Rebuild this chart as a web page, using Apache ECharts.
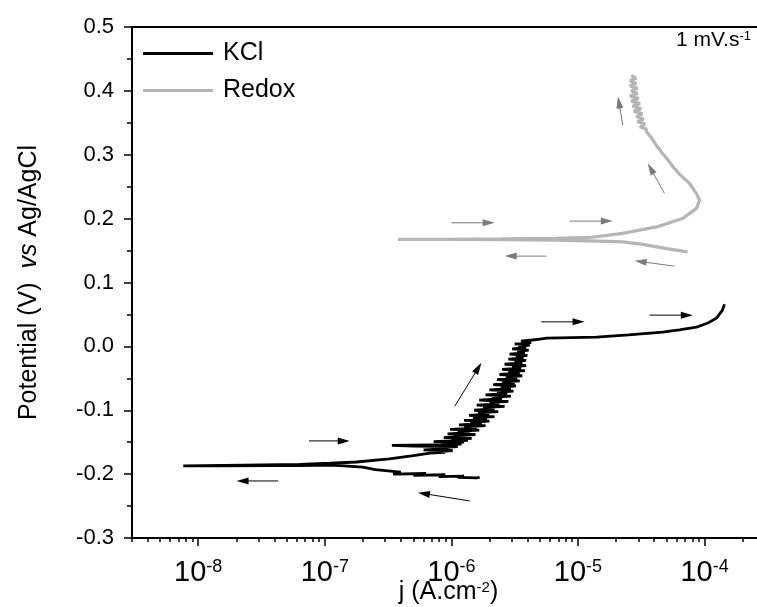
<!DOCTYPE html>
<html>
<head>
<meta charset="utf-8">
<script src="https://cdn.jsdelivr.net/npm/echarts@6/dist/echarts.min.js"></script>
<style>
  html, body { margin: 0; padding: 0; background: #fff; }
  #chart { width: 757px; height: 607px; }
</style>
</head>
<body>
<div id="chart"></div>
<script>
// values, in sweep order; current as log10(j / A.cm-2)
const kclLogJ = [
  -5.777, -5.80, -5.95, -5.90, -6.10, -6.05, -6.30, -6.20, -6.46, -6.40, -6.60, -6.70, -6.85, -6.96, -7.20, -7.43, -7.80, -8.118,
  -7.80, -7.50, -7.20, -6.96, -6.75, -6.49, -6.30,
  -6.17, -6.05, -6.12, -5.99, -6.22, -6.02, -6.10, -5.95, -6.30, -6.47, -6.00, -5.92, -6.08, -5.90, -6.14, -5.87,
  -6.00, -5.84, -6.06, -5.90, -5.98, -5.81, -6.03, -5.85, -5.95, -5.78, -6.01, -5.80, -5.90, -5.73, -5.94, -5.76,
  -5.85, -5.70, -5.90, -5.72, -5.83, -5.66, -5.86, -5.70, -5.79, -5.63, -5.82, -5.66, -5.75, -5.58, -5.80, -5.62,
  -5.70, -5.55, -5.78, -5.60, -5.68, -5.53, -5.73, -5.56, -5.64, -5.51, -5.70, -5.53, -5.61, -5.49, -5.67, -5.50,
  -5.60, -5.46, -5.64, -5.48, -5.57, -5.44, -5.62, -5.46, -5.55, -5.42, -5.60, -5.45, -5.52, -5.41, -5.58, -5.44,
  -5.50, -5.41, -5.55, -5.43, -5.49, -5.40, -5.54, -5.42, -5.48, -5.39, -5.52, -5.41, -5.47, -5.38, -5.50, -5.37,
  -5.45, -5.36,
  -5.30, -5.248, -4.853, -4.60, -4.332, -4.20, -4.064, -3.97, -3.906, -3.859, -3.843
];
const kclE = [
  -0.205, -0.206, -0.205, -0.203, -0.204, -0.201, -0.202, -0.199, -0.200, -0.197, -0.193, -0.189, -0.187, -0.186, -0.1865, -0.1865, -0.187, -0.187,
  -0.1862, -0.1855, -0.1848, -0.183, -0.181, -0.176, -0.171,
  -0.167, -0.166, -0.165, -0.163, -0.162, -0.160, -0.159, -0.157, -0.156, -0.155, -0.154, -0.153, -0.152, -0.150, -0.149, -0.147,
  -0.146, -0.144, -0.143, -0.141, -0.140, -0.138, -0.137, -0.135, -0.133, -0.131, -0.130, -0.128, -0.126, -0.124, -0.123, -0.121,
  -0.119, -0.117, -0.116, -0.114, -0.112, -0.110, -0.108, -0.106, -0.104, -0.102, -0.100, -0.098, -0.096, -0.094, -0.092, -0.090,
  -0.088, -0.086, -0.084, -0.082, -0.080, -0.078, -0.076, -0.074, -0.072, -0.070, -0.068, -0.066, -0.064, -0.062, -0.060, -0.058,
  -0.056, -0.054, -0.052, -0.050, -0.048, -0.046, -0.044, -0.042, -0.040, -0.038, -0.036, -0.034, -0.032, -0.030, -0.028, -0.026,
  -0.024, -0.022, -0.020, -0.018, -0.016, -0.014, -0.012, -0.010, -0.008, -0.006, -0.004, -0.002, 0.000, 0.002, 0.004, 0.006,
  0.008, 0.010,
  0.0115, 0.0128, 0.0144, 0.018, 0.0222, 0.026, 0.030, 0.037, 0.0442, 0.0567, 0.066
];

const redoxLogJ = [
  -4.134, -4.30, -4.50, -4.649, -4.909, -5.171, -5.60, -6.00, -6.421,
  -6.00, -5.60, -5.171, -4.909, -4.648, -4.38, -4.174, -4.064, -4.04, -4.066, -4.119,
  -4.19, -4.245, -4.29, -4.34, -4.385, -4.425, -4.46,
  -4.46, -4.51, -4.47, -4.53, -4.48, -4.54, -4.49, -4.56, -4.50, -4.57, -4.51, -4.58,
  -4.52, -4.59, -4.53, -4.58, -4.53, -4.59, -4.54, -4.59, -4.54, -4.58
];
const redoxE = [
  0.148, 0.153, 0.160, 0.1637, 0.1653, 0.1664, 0.1670, 0.1673, 0.1674,
  0.1677, 0.1682, 0.169, 0.1705, 0.1768, 0.187, 0.2003, 0.216, 0.229, 0.2395, 0.2552,
  0.268, 0.280, 0.292, 0.304, 0.316, 0.328, 0.336,
  0.340, 0.344, 0.348, 0.352, 0.356, 0.360, 0.364, 0.368, 0.372, 0.376, 0.380, 0.384,
  0.388, 0.392, 0.396, 0.400, 0.404, 0.408, 0.412, 0.416, 0.420, 0.424
];

// sweep direction arrows: [logj start, E start, logj end, E end]
const kclArrows = [
  [-7.125, -0.148, -6.803, -0.148],
  [-7.368, -0.2107, -7.697, -0.2107],
  [-5.974, -0.0937, -5.763, -0.0258],
  [-5.856, -0.242, -6.264, -0.229],
  [-5.29, 0.0384, -4.948, 0.0384],
  [-4.435, 0.0489, -4.093, 0.0489]
];
const redoxArrows = [
  [-6.0, 0.1935, -5.658, 0.1935],
  [-5.066, 0.1961, -4.725, 0.1961],
  [-5.25, 0.1413, -5.579, 0.1413],
  [-4.238, 0.1256, -4.553, 0.134],
  [-4.317, 0.2395, -4.449, 0.2865],
  [-4.646, 0.3465, -4.685, 0.391]
];

const majorTicks = [-8, -7, -6, -5, -4];
const minorMantissa = [2, 3, 4, 5, 6, 7, 8, 9];

const FONT = '"Liberation Sans", Arial, sans-serif';
const xMin = Math.log10(3e-9);
const xMax = Math.log10(3e-4);

const minorTicks = [];
for (let d = -9; d <= -4; d++) {
  minorMantissa.forEach(m => {
    const v = d + Math.log10(m);
    if (v >= xMin - 1e-9 && v <= xMax + 1e-9) minorTicks.push(v);
  });
}

function arrowRender(color) {
  return function (params, api) {
    const p1 = api.coord([api.value(0), api.value(1)]);
    const p2 = api.coord([api.value(2), api.value(3)]);
    const dx = p2[0] - p1[0], dy = p2[1] - p1[1];
    const len = Math.sqrt(dx * dx + dy * dy);
    const ux = dx / len, uy = dy / len;
    const hl = 12, hw = 3.5;
    const bx = p2[0] - ux * hl, by = p2[1] - uy * hl;
    return {
      type: 'group',
      children: [
        { type: 'line', shape: { x1: p1[0], y1: p1[1], x2: bx + ux * 2, y2: by + uy * 2 }, style: { stroke: color, lineWidth: 1 } },
        { type: 'polygon', shape: { points: [[p2[0], p2[1]], [bx - uy * hw, by + ux * hw], [bx + uy * hw, by - ux * hw]] }, style: { fill: color } }
      ]
    };
  };
}

const chart = echarts.init(document.getElementById('chart'));
chart.setOption({
  animation: false,
  backgroundColor: '#fff',
  textStyle: { fontFamily: FONT },
  grid: { left: 132, top: 27, right: -8, bottom: 69, outerBoundsMode: 'none' },
  legend: {
    data: [{ name: 'KCl', icon: 'rect' }, { name: 'Redox', icon: 'rect' }],
    orient: 'vertical',
    left: 138,
    top: 36,
    itemWidth: 70,
    itemHeight: 3,
    itemGap: 12,
    textStyle: { fontSize: 25, color: '#000', fontFamily: FONT, padding: [0, 0, 0, 5] }
  },
  graphic: [{
    type: 'text',
    right: 6,
    top: 30,
    style: {
      text: '{a|1 mV.s}{b|-1}',
      rich: {
        a: { fontSize: 21, fontFamily: FONT, fill: '#000' },
        b: { fontSize: 13, fontFamily: FONT, fill: '#000', verticalAlign: 'top', lineHeight: 13 }
      }
    }
  }],
  xAxis: [
    {
      type: 'value',
      position: 'bottom',
      min: xMin,
      max: xMax,
      name: '{a|j (A.cm}{s|-2}{a|)}',
      nameLocation: 'middle',
      nameGap: 42,
      nameMoveOverlap: false,
      nameTextStyle: {
        rich: {
          a: { fontSize: 25, fontFamily: FONT, color: '#000' },
          s: { fontSize: 15, fontFamily: FONT, color: '#000', verticalAlign: 'top', lineHeight: 15 }
        }
      },
      axisLine: { onZero: false, lineStyle: { color: '#000', width: 2 } },
      axisTick: { customValues: majorTicks, length: 8, lineStyle: { color: '#000', width: 1.5 } },
      axisLabel: {
        customValues: majorTicks,
        margin: 20,
        formatter: v => '{b|10}{s|' + Math.round(v) + '}',
        rich: {
          b: { fontSize: 29, fontFamily: FONT, color: '#000' },
          s: { fontSize: 18, fontFamily: FONT, color: '#000', verticalAlign: 'top', lineHeight: 18 }
        }
      },
      splitLine: { show: false }
    },
    {
      type: 'value',
      position: 'top',
      min: xMin,
      max: xMax,
      axisLine: { onZero: false, lineStyle: { color: '#000', width: 2 } },
      axisTick: { show: false },
      axisLabel: { show: false },
      splitLine: { show: false }
    },
    {
      type: 'value',
      position: 'bottom',
      min: xMin,
      max: xMax,
      axisLine: { show: false, onZero: false },
      axisTick: { customValues: minorTicks, length: 4, lineStyle: { color: '#000', width: 1.5 } },
      axisLabel: { show: false },
      splitLine: { show: false }
    }
  ],
  yAxis: {
    type: 'value',
    min: -0.3,
    max: 0.5,
    interval: 0.1,
    name: '{a|Potential (V)  }{i|vs}{a| Ag/AgCl}',
    nameLocation: 'middle',
    nameRotate: 90,
    nameGap: 90,
    nameMoveOverlap: false,
    nameTextStyle: {
      rich: {
        a: { fontSize: 25, fontFamily: FONT, color: '#000' },
        i: { fontSize: 25, fontFamily: FONT, color: '#000', fontStyle: 'italic' }
      }
    },
    axisLine: { onZero: false, lineStyle: { color: '#000', width: 2 } },
    axisTick: { length: 8, lineStyle: { color: '#000', width: 1.5 } },
    minorTick: { show: true, splitNumber: 2, length: 5, lineStyle: { color: '#000', width: 1.5 } },
    axisLabel: {
      margin: 18,
      fontSize: 22,
      color: '#000',
      fontFamily: FONT,
      formatter: v => (Math.round(v * 10) / 10).toFixed(1)
    },
    splitLine: { show: false },
    minorSplitLine: { show: false }
  },
  series: [
    {
      name: 'KCl',
      type: 'line',
      data: kclLogJ.map((v, i) => [v, kclE[i]]),
      showSymbol: false,
      symbol: 'none',
      lineStyle: { color: '#000', width: 2.8 },
      itemStyle: { color: '#000' },
      z: 3
    },
    {
      name: 'Redox',
      type: 'line',
      data: redoxLogJ.map((v, i) => [v, redoxE[i]]),
      showSymbol: false,
      symbol: 'none',
      lineStyle: { color: '#b5b5b5', width: 3.2 },
      itemStyle: { color: '#b5b5b5' },
      z: 2
    },
    {
      type: 'custom',
      renderItem: arrowRender('#000'),
      data: kclArrows,
      encode: { x: [0, 2], y: [1, 3] },
      silent: true,
      z: 4
    },
    {
      type: 'custom',
      renderItem: arrowRender('#7a7a7a'),
      data: redoxArrows,
      encode: { x: [0, 2], y: [1, 3] },
      silent: true,
      z: 4
    }
  ]
});
</script>
</body>
</html>
